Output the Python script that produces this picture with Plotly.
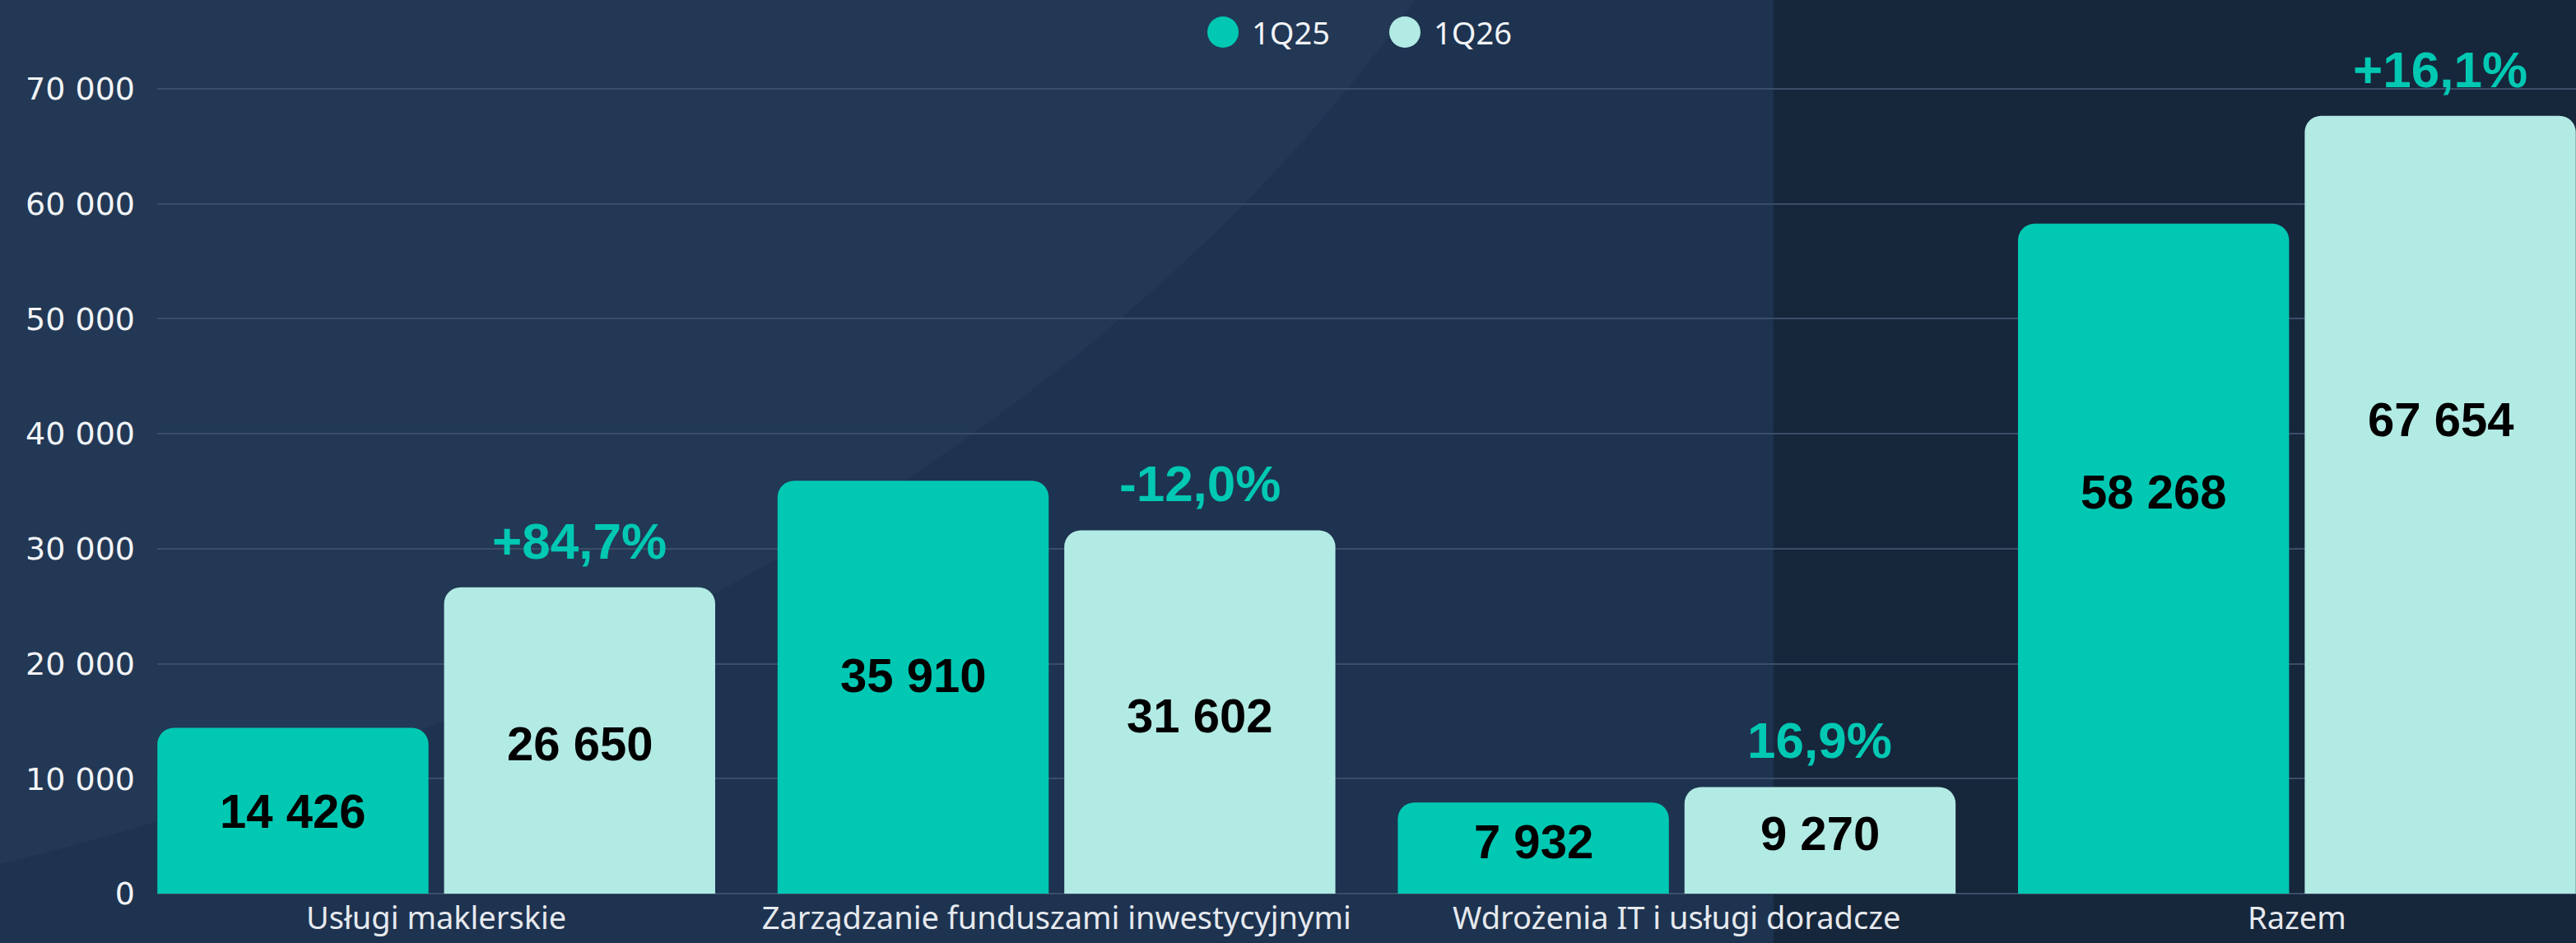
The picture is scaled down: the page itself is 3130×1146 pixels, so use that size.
import plotly.graph_objects as go

# ======================== data ========================
categories = ["Usługi maklerskie", "Zarządzanie funduszami inwestycyjnymi",
              "Wdrożenia IT i usługi doradcze", "Razem"]
q1_25 = [14426, 35910, 7932, 58268]
q1_26 = [26650, 31602, 9270, 67654]
change_labels = ["+84,7%", "-12,0%", "16,9%", "+16,1%"]
y_ticks = [0, 10000, 20000, 30000, 40000, 50000, 60000, 70000]
series_names = ["1Q25", "1Q26"]

# where the value sits inside each bar (share of bar height)
label_frac_25 = [0.5, 0.53, 0.57, 0.6]
label_frac_26 = [0.49, 0.49, 0.57, 0.61]

TEAL = "#00C8B3"
LIGHT = "#B2EAE4"
BG = "#16263B"
BG_LEFT = "#1D3350"
GRID = "#3A4E68"
W, H = 3130, 1146
M = dict(l=191, r=0, t=80, b=60)
PW = W - M["l"] - M["r"]
PH = H - M["t"] - M["b"]


def fmt(v):
    return f"{v:,}".replace(",", " ")


def px_x(p):
    return (p - M["l"]) / PW


def px_y(p):
    return (H - M["b"] - p) / PH


fig = go.Figure()
fig.add_trace(go.Bar(x=categories, y=q1_25, name=series_names[0],
                     marker=dict(color=TEAL, line_width=0), showlegend=False))
fig.add_trace(go.Bar(x=categories, y=q1_26, name=series_names[1],
                     marker=dict(color=LIGHT, line_width=0), showlegend=False))

# bar offsets in pixels (half a slot)
pitch = PW / 3.9
slot = pitch * (1 - 0.0755) / 2
half = slot / 2

annotations = []
value_font = dict(family="Liberation Sans", size=58, color="black", weight="bold")
pct_font = dict(family="Liberation Sans", size=62, color=TEAL, weight="bold")
for i, c in enumerate(categories):
    annotations.append(dict(x=c, y=q1_25[i] * label_frac_25[i], text=fmt(q1_25[i]),
                            xshift=-half, showarrow=False, font=value_font))
    annotations.append(dict(x=c, y=q1_26[i] * label_frac_26[i], text=fmt(q1_26[i]),
                            xshift=half, showarrow=False, font=value_font))
    annotations.append(dict(x=c, y=q1_26[i], text=change_labels[i], xshift=half,
                            yshift=20, yanchor="bottom", showarrow=False, font=pct_font))

# hand-drawn legend (round markers)
legend_font = dict(family="Noto Sans", size=38, color="#F2F4F7")
shapes = [
    dict(type="rect", xref="paper", yref="paper", x0=px_x(0), x1=px_x(2155),
         y0=px_y(H), y1=px_y(0), fillcolor=BG_LEFT, line_width=0, layer="below"),
    dict(type="path", xref="paper", yref="paper", layer="below", line_width=0,
         fillcolor="rgba(90,110,140,0.09)",
         path=(f"M {px_x(0)},{px_y(1050)} C {px_x(700)},{px_y(880)} "
               f"{px_x(1350)},{px_y(520)} {px_x(1720)},{px_y(0)} "
               f"L {px_x(0)},{px_y(0)} Z")),
]
for name, color, cx in [(series_names[0], TEAL, 1486), (series_names[1], LIGHT, 1707)]:
    shapes.append(dict(type="circle", xref="paper", yref="paper", xsizemode="pixel",
                       ysizemode="pixel", xanchor=px_x(cx), yanchor=px_y(39),
                       x0=-19, x1=19, y0=-19, y1=19, fillcolor=color, line_width=0))
    annotations.append(dict(xref="paper", yref="paper", x=px_x(cx + 33), y=px_y(39),
                            xanchor="left", yanchor="middle", text=name,
                            showarrow=False, font=legend_font))

fig.update_layout(
    width=W, height=H,
    margin=M,
    paper_bgcolor=BG,
    plot_bgcolor="rgba(0,0,0,0)",
    barmode="group",
    bargap=0.0755,
    bargroupgap=0.0544,
    barcornerradius=20,
    separators=", ",
    showlegend=False,
    hovermode=False,
    font=dict(family="Noto Sans", color="#F2F4F7"),
    shapes=shapes,
    annotations=annotations,
)
fig.update_xaxes(range=[-0.45, 3.45], showgrid=False, zeroline=False, showline=False,
                 tickfont=dict(size=38, color="#E6E9EE"), ticks="", ticklabelstandoff=4)
fig.update_yaxes(range=[0, 72000], tickvals=y_ticks, tickformat=",d",
                 showgrid=True, gridcolor=GRID, gridwidth=2,
                 zeroline=True, zerolinecolor=GRID, zerolinewidth=2,
                 tickfont=dict(family="DejaVu Sans", size=38, color="#F2F4F7"),
                 ticklabelstandoff=26)

# drop the default page margin so the chart starts at the window corner
fig.write_html("out.html", config={"displayModeBar": False}, post_script=(
    "document.body.style.margin='0';"
    "document.body.style.background='" + BG + "';"))
